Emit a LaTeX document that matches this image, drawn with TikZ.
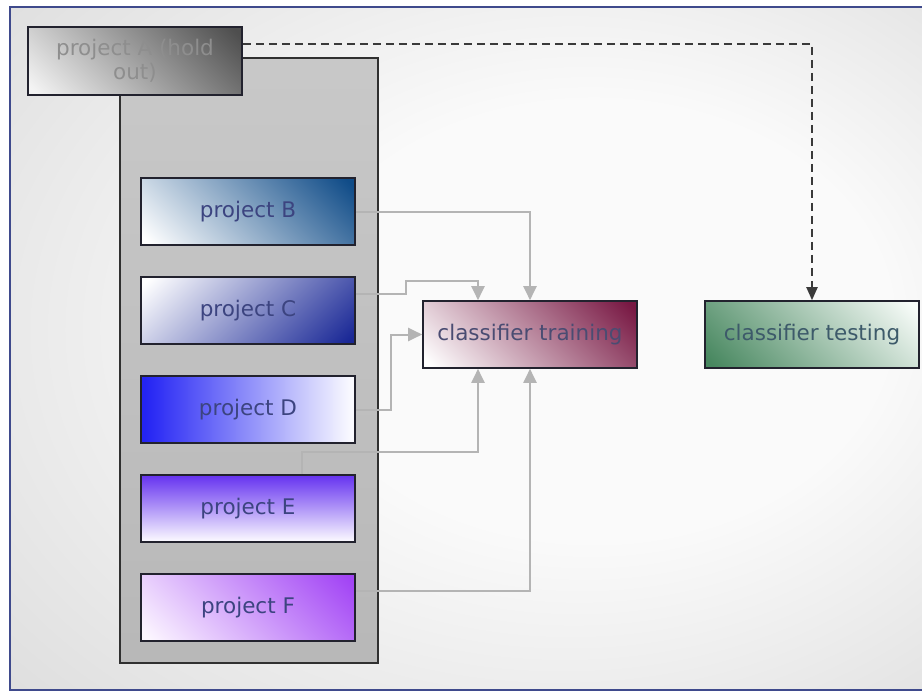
\documentclass[tikz,border=0pt]{standalone}
\usepackage{fontspec}
\setmainfont{DejaVu Sans}
\usetikzlibrary{arrows.meta}

% palette
\definecolor{bgmid}{HTML}{FAFAFA}
\definecolor{bgedge}{HTML}{CFCFCF}
\definecolor{framec}{HTML}{3F4A8C}
\definecolor{groupline}{HTML}{303030}
\definecolor{groupfillA}{HTML}{C8C8C8}
\definecolor{groupfillB}{HTML}{B8B8B8}
\definecolor{boxline}{HTML}{22222E}
\definecolor{labelink}{HTML}{3C4480}
\definecolor{holdink}{HTML}{8E8E8E}
\definecolor{feedgray}{HTML}{B4B4B4}
\definecolor{dashgray}{HTML}{3A3A3A}
\definecolor{aDark}{HTML}{4E4E4E}
\definecolor{aLight}{HTML}{F4F4F4}
\definecolor{bDark}{HTML}{104C88}
\definecolor{bLight}{HTML}{FFFFFF}
\definecolor{cDark}{HTML}{1A2896}
\definecolor{cLight}{HTML}{FFFFFF}
\definecolor{dDark}{HTML}{2424F4}
\definecolor{dLight}{HTML}{FAFAFF}
\definecolor{eDark}{HTML}{6836F0}
\definecolor{eLight}{HTML}{FAF8FF}
\definecolor{fDark}{HTML}{A244F5}
\definecolor{fLight}{HTML}{FCF6FF}
\definecolor{trDark}{HTML}{781843}
\definecolor{trLight}{HTML}{FFFFFF}
\definecolor{trInk}{HTML}{4A4C72}
\definecolor{teDark}{HTML}{47875F}
\definecolor{teLight}{HTML}{F8FCF9}
\definecolor{teInk}{HTML}{3D5A6A}

% soft glow behind the whole canvas
\pgfdeclareradialshading{canvasglow}{\pgfpoint{10bp}{3bp}}{%
  color(0bp)=(bgmid); color(16bp)=(bgmid); color(50bp)=(bgedge)}

% box fills: first colour at the bottom, second at the top, the whole
% shading then rotated into place with shading angle.  A box covers the
% middle 25bp--75bp of the shading; turned by 45 degrees its diagonal
% covers about 15bp--85bp.
\newcommand\straightfill[3]{\pgfdeclareverticalshading{#1}{100bp}{%
  color(0bp)=(#2); color(26bp)=(#2); color(74bp)=(#3); color(100bp)=(#3)}}
\newcommand\diagfill[3]{\pgfdeclareverticalshading{#1}{100bp}{%
  color(0bp)=(#2); color(17bp)=(#2); color(83bp)=(#3); color(100bp)=(#3)}}

\diagfill{fillA}{aLight}{aDark}
\diagfill{fillB}{bLight}{bDark}
\diagfill{fillC}{cDark}{cLight}
\straightfill{fillD}{dLight}{dDark}
\straightfill{fillE}{eLight}{eDark}
\diagfill{fillF}{fLight}{fDark}
\diagfill{fillT}{trLight}{trDark}
\diagfill{fillTe}{teDark}{teLight}
\straightfill{fillGrp}{groupfillB}{groupfillA}

\tikzset{
  stage/.style={draw=boxline, line width=1.6pt, minimum width=214pt,
    minimum height=67pt, inner sep=0pt, text=labelink,
    font=\fontsize{21.5}{26}\selectfont},
  feed/.style={draw=feedgray, line width=2pt,
    -{Triangle[width=13pt,length=14pt,fill=feedgray]}},
  holdout/.style={draw=dashgray, line width=2pt, dash pattern=on 8pt off 5pt,
    -{Triangle[width=11pt,length=13pt,fill=dashgray]}},
}

\begin{document}
\begin{tikzpicture}[x=1pt,y=-1pt]
\useasboundingbox (0,0) rectangle (922,693);
\fill[white] (0,0) rectangle (922,693);

% canvas with frame
\path[shade, shading=canvasglow] (10,7) rectangle (930,690);
\draw[framec, line width=2.5pt] (10,7) rectangle (930,690);

% group holding the training projects
\node[draw=groupline, line width=2pt, shade, shading=fillGrp,
      minimum width=258pt, minimum height=605pt, inner sep=0pt] (grp) at (249,360.5) {};

% held-out project
\node[stage, text=holdink, align=center, shade, shading=fillA,
      shading angle=-45, minimum height=68pt] (A) at (135,61)
      {project A (hold\\[-2pt]out)};

% training projects
\node[stage, shade, shading=fillB, shading angle=-45] (B) at (248,211.5) {project B};
\node[stage, shade, shading=fillC, shading angle=45] (C) at (248,310.5) {project C};
\node[stage, shade, shading=fillD, shading angle=90] (D) at (248,409.5) {project D};
\node[stage, shade, shading=fillE] (E) at (248,508.5) {project E};
\node[stage, shade, shading=fillF, shading angle=-45] (F) at (248,607.5) {project F};

% classifier stages
\node[stage, text=trInk, shade, shading=fillT, shading angle=-45] (T) at (530,334.5) {classifier training};
\node[stage, text=teInk, shade, shading=fillTe, shading angle=-45] (Te) at (812,334.5) {classifier testing};

% feeds into training
\draw[feed] (B.east) -| (T.north);
\draw[feed] ([yshift=17pt]C.east) -- ++(50,0) -- ++(0,-13) -| ([xshift=-52pt]T.north);
\draw[feed] (D.east) -- ++(35,0) |- (T.west);
\draw[feed] ([xshift=54pt]E.north) -- ++(0,-22) -| ([xshift=-52pt]T.south);
\draw[feed] ([yshift=17pt]F.east) -| (T.south);

% held-out project goes to testing
\draw[holdout] ([yshift=17pt]A.east) -| (Te.north);
\end{tikzpicture}
\end{document}
